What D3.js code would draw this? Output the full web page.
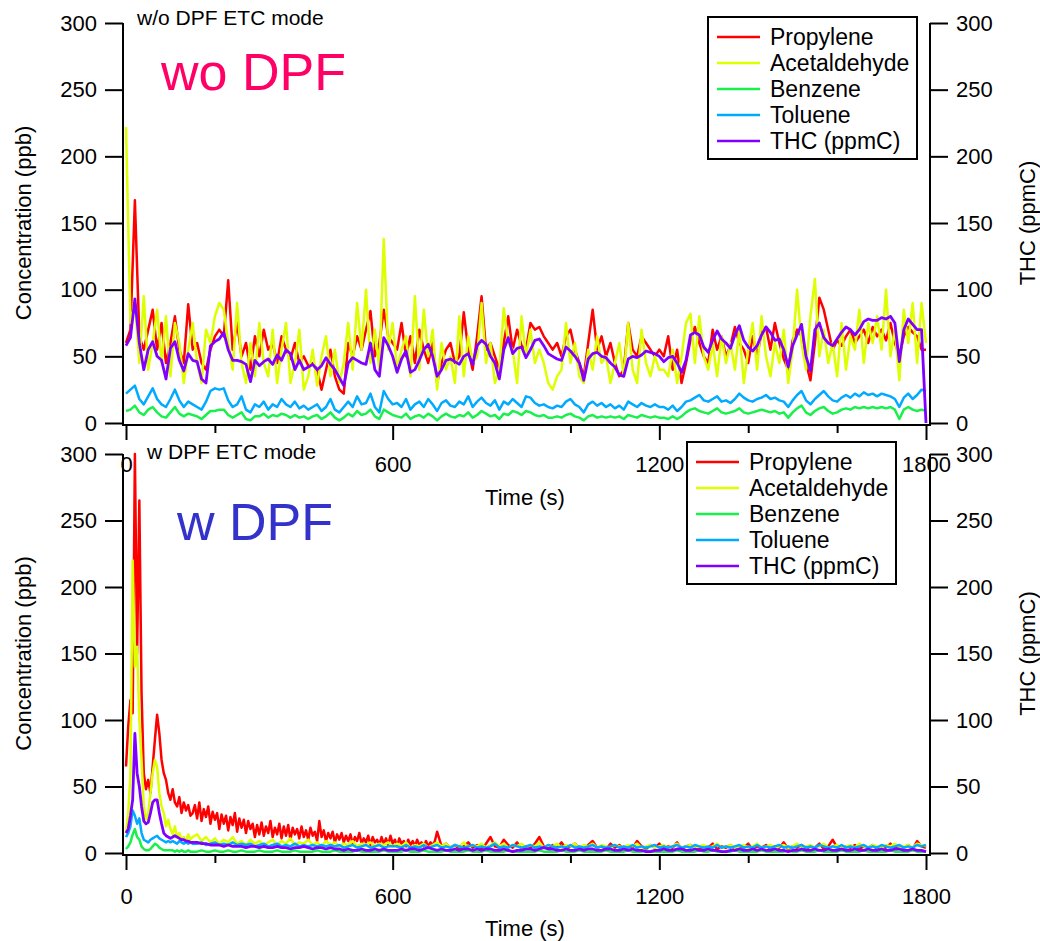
<!DOCTYPE html>
<html><head><meta charset="utf-8">
<script src="https://cdn.jsdelivr.net/npm/d3@7"></script>
<style>
html,body{margin:0;padding:0;background:#fff;}
svg{display:block;font-family:"Liberation Sans",Arial,Helvetica,sans-serif;}
</style>
</head><body>
<svg id="chart" width="1040" height="941"></svg>
<script>
// ---------------- data ----------------
const seriesNames = ["Propylene", "Acetaldehyde", "Benzene", "Toluene", "THC (ppmC)"];
const yTicks = [0, 50, 100, 150, 200, 250, 300];
const xMajorTicks = [0, 600, 1200, 1800];
const xMinorTicks = [200, 400, 800, 1000, 1400, 1600];

// time (s) of each sample
const timeTop = d3.range(0, 1801, 10);
const timeBottom = d3.range(0, 150, 5).concat(d3.range(150, 1801, 10));
const timeBottomPropylene = d3.range(0, 700, 5).concat(d3.range(700, 1801, 10));

// w/o DPF (top panel)
const topPropylene = [60,70,167,65,55,70,85,55,75,45, 60,80,55,45,89,55,60,45,40,55, 65,70,65,107,55,75,50,60,40,65, 50,70,55,60,45,65,55,48,60,45, 50,43,45,40,25,40,55,35,25,22, 60,50,65,55,70,84,50,60,85,65, 60,
 55,75,50,65,45,70,55,45,60,30, 45,55,60,45,50,83,55,40,65,95, 55,60,50,40,60,80,55,70,58,55, 75,70,72,65,60,55,60,50,65,70, 55,45,35,60,85,55,65,50,60,45, 35,40,75,55,50,65,60,55,50,55,
 50,65,40,55,30,45,62,72,60,50, 45,70,55,65,50,58,72,60,55,45, 65,50,68,72,55,75,60,48,40,62, 70,65,45,32,60,94,85,70,55,62, 58,65,70,60,65,70,60,72,65,70, 62,75,60,50,65,72,68,65,55,55];
const topAcetaldehyde = [222,75,90,45,95,40,60,85,45,80, 35,75,60,30,55,75,45,30,70,60, 80,90,85,60,40,90,45,30,60,35, 75,45,35,70,30,55,75,30,45,70, 25,35,55,28,50,65,35,55,30,45, 75,40,90,55,100,45,70,40,138,55, 75,
 40,55,65,35,95,40,85,50,70,25, 60,40,50,30,80,35,65,45,50,90, 45,60,30,40,86,60,55,30,80,50, 70,45,55,45,30,25,35,40,75,45, 60,35,30,55,40,65,45,50,30,45, 60,35,75,40,30,70,45,35,50,40,
 40,35,55,30,50,75,82,45,80,50, 40,60,35,65,45,60,40,70,30,55, 75,40,80,50,35,60,45,70,30,55, 100,60,40,80,108,50,70,45,60,35, 75,40,65,55,85,45,75,60,80,55, 100,50,70,32,85,60,90,45,90,60];
const topBenzene = [9,10,13,8,6,10,12,8,5,4, 8,12,7,5,7,6,5,3,6,9, 9,10,10,6,4,6,8,3,2,5, 5,7,4,6,5,7,6,4,6,4, 5,3,5,6,3,5,8,4,2,4, 7,5,9,6,7,10,5,3,10,8, 6,
 5,4,7,3,5,6,4,7,5,2, 5,7,5,4,6,5,8,4,6,9, 7,5,6,3,7,6,9,8,6,9, 8,6,5,6,4,4,5,4,6,7, 5,4,2,5,6,4,5,4,5,4, 5,3,6,5,4,6,5,4,5,4,
 4,3,5,3,5,8,10,11,9,8, 7,9,11,8,7,8,9,11,8,7, 8,9,10,9,8,9,7,8,4,8, 11,13,8,6,9,11,12,9,7,8, 10,11,10,12,11,12,11,12,11,12, 11,12,10,3,10,12,10,9,10,9];
const topToluene = [22,25,28,18,14,20,26,18,14,12, 18,25,17,12,16,14,12,10,16,24, 26,25,26,17,12,14,20,10,8,14, 12,16,10,14,12,18,14,12,16,11, 13,10,12,14,9,12,18,10,8,12, 16,12,20,14,15,22,12,8,24,18, 14,
 15,12,18,10,14,16,12,18,14,9, 15,17,13,12,16,14,20,12,16,19, 15,13,17,10,16,14,18,15,12,20, 19,15,13,14,12,11,13,12,16,18, 14,12,8,14,16,13,15,12,14,11, 13,10,16,14,12,15,13,12,14,12,
 12,10,13,9,12,16,17,19,21,17, 16,18,20,16,17,15,18,22,19,17, 16,18,19,21,18,19,17,16,12,17, 21,24,17,14,18,21,24,20,17,16, 19,21,19,22,20,23,21,22,20,22, 21,20,18,12,19,22,18,21,25,24];
const topTHC = [58,64,93,60,40,55,61,50,47,33, 56,61,47,39,52,47,46,33,30,58, 61,63,68,55,47,47,46,44,31,47, 43,46,48,44,51,47,55,52,40,47, 40,42,44,40,43,49,44,40,34,28, 45,49,47,45,44,60,40,35,64,58, 50,
 38,48,54,38,40,47,55,59,50,35, 40,47,48,46,44,50,52,44,58,62, 59,50,45,33,55,64,52,56,57,49, 55,62,63,58,52,50,48,47,57,54, 50,45,32,48,52,53,50,49,45,42, 36,35,48,50,49,51,54,53,52,50,
 46,49,50,45,38,47,66,68,66,57, 53,62,69,63,60,56,66,73,62,57, 54,58,66,72,68,62,63,55,42,58, 66,74,50,39,70,75,64,60,58,63, 68,72,70,66,70,76,78,77,77,79, 78,80,75,46,70,78,74,70,70,0];

// w DPF (bottom panel)
const bottomPropylene = [65,95,115,105,300,150,265,120,60,48, 55,45,65,85,104,90,70,60,55,45, 40,48,38,35,42,30,38,32,36,28, 30,
 36,26,38,24,33,27,35,22,31,25, 30,18,29,22,28,17,27,21,30,16, 26,19,25,15,24,18,22,12,21,14,
 23,13,20,15,24,12,19,14,22,11, 20,13,21,10,19,14,18,11,20,12, 17,10,19,13,16,9,24,12,17,9,
 15,11,16,8,14,10,15,8,13,9, 14,7,12,9,15,7,11,8,13,6, 12,8,10,6,12,7,11,6,13,7,
 10,5,11,7,9,5,10,6,9,5, 10,6,8,5,9,5,8,6,9,
 16, 5,7,4,6,3,5,8,4,6,3, 7,12,5,4,10,6,4,8,3,5, 4,7,12,5,3,6,4,8,3,5, 7,4,3,6,9,4,5,3,7,4, 6,3,5,4,9,5,3,6,4,7,
 3,5,4,8,3,5,6,4,3,5, 4,7,3,5,4,6,3,5,4,7, 3,5,4,6,3,5,4,8,3,5, 4,6,3,5,4,7,3,5,10,4, 3,5,4,6,3,5,4,6,3,5, 4,7,3,5,4,6,3,9,5,4];
const bottomAcetaldehyde = [15,30,60,220,140,155,100,70,35,25, 30,45,60,70,65,45,35,30,20,25, 18,14,20,12,15,10,12,9,14,10, 12,
 14,9,12,8,11,7,10,8,12,7, 9,6,10,7,9,6,8,10,6,9, 7,11,6,8,7,10,6,8,5,9, 6,8,5,7,6,9,5,7,6,8, 5,7,6,8,5,
 7,5,8,4,6,5,7,4,6,8, 5,7,4,6,5,8,4,6,5,7, 4,6,8,5,7,4,6,5,7,4, 6,5,8,4,6,5,7,4,6,5, 7,4,6,5,7,4,6,5,4,6, 5,4,6,5,7,4,5,6,4,5,
 6,4,5,7,4,5,6,4,5,6, 4,5,7,4,5,6,4,5,6,4, 5,7,4,5,6,4,5,6,4,5, 7,4,5,6,4,5,7,4,5,6, 4,5,6,4,7,5,4,6,5,4, 6,5,7,4,5,6,4,7,6,5];
const bottomBenzene = [3,5,8,14,18,12,10,5,3,2, 2,3,5,7,6,4,3,2,2,2, 2,2,1,2,1,2,1,1,2,1, 1,
 1,2,1,1,2,1,1,2,1,1, 2,1,1,1,2,1,1,1,2,1, 1,1,2,1,1,1,1,2,1,1, 1,2,1,1,1,1,2,1,1,1, 1,1,2,1,1,
 1,1,2,1,1,1,2,1,1,1, 1,2,1,1,1,1,2,1,1,1, 2,1,1,1,1,2,1,1,1,1, 1,1,2,1,1,1,1,2,1,1, 1,2,1,1,1,1,1,2,1,1, 1,1,2,1,1,1,2,1,1,1,
 1,1,1,2,1,1,1,1,2,1, 1,2,1,1,1,1,2,1,1,1, 1,1,2,1,1,1,1,1,2,1, 1,2,1,1,1,2,1,1,1,1, 2,1,1,1,1,2,1,1,1,1, 1,2,1,1,1,1,2,1,1,1];
const bottomToluene = [12,15,20,32,28,22,26,15,10,9, 8,10,11,12,13,11,10,9,8,9, 8,9,8,7,9,8,7,8,7,8, 7,
 7,8,6,7,8,6,7,6,8,6, 7,6,7,5,6,7,5,6,7,5, 6,5,7,5,6,5,6,5,6,5, 6,5,6,4,5,6,4,5,6,4, 5,6,4,5,5,
 5,4,6,4,5,4,6,4,5,6, 4,5,4,6,5,4,5,6,4,5, 4,5,7,4,5,4,6,5,4,5, 6,4,5,4,6,5,4,5,4,6, 4,5,4,5,6,4,5,4,5,6, 4,5,4,6,4,5,4,5,6,4,
 5,4,5,6,4,5,4,6,5,4, 5,4,6,4,5,4,5,6,4,5, 4,6,4,5,4,5,6,4,5,4, 5,6,4,5,4,6,5,4,5,4, 6,4,5,4,5,6,4,5,4,6, 5,4,5,6,4,5,4,6,5,6];
const bottomTHC = [15,18,28,40,90,60,50,35,24,22, 23,30,38,40,40,30,22,15,13,12, 11,12,13,12,11,10,10,9,9,8, 8,
 8,7,7,6,6,6,5,6,5,5, 5,4,5,5,4,5,4,4,5,4, 4,3,4,4,5,4,3,4,4,3, 4,3,3,2,3,2,2,3,2,2, 3,2,3,2,2,
 2,3,2,3,3,2,3,4,3,2, 3,2,2,3,2,3,3,2,3,2, 3,3,2,2,3,2,1,2,2,3, 3,2,3,4,3,3,2,2,3,2, 2,3,2,3,3,2,2,3,3,2, 2,3,2,3,2,2,1,1,2,2,
 3,2,2,3,3,2,2,3,2,2, 3,2,2,1,1,2,2,3,2,2, 3,2,3,2,2,3,2,2,1,2, 2,3,2,2,3,2,2,3,2,2, 3,2,2,3,2,2,3,2,2,3, 2,2,3,3,2,2,3,2,2,1];

// ---------------- styles ----------------
const colors = ["#ff0000", "#ddff00", "#19f04c", "#00aaff", "#8000ff"];
const widths = [2.5, 2.5, 2.5, 2.5, 2.8];
const FONT = 22;

const svg = d3.select("#chart");
const x = d3.scaleLinear().domain([0, 1800]).range([126, 926]);

const panels = [
  { times: [timeTop, timeTop, timeTop, timeTop, timeTop],
    series: [topPropylene, topAcetaldehyde, topBenzene, topToluene, topTHC],
    yRange: [423, 23], frameY: 425, tickPad: 16, titleY: 505,
    mode: "w/o DPF ETC mode", modeX: 137, modeY: 25,
    big: "wo DPF", bigColor: "#ff0066", bigX: 161, bigY: 90,
    legX: 708, legY: 17 },
  { times: [timeBottomPropylene, timeBottom, timeBottom, timeBottom, timeBottom],
    series: [bottomPropylene, bottomAcetaldehyde, bottomBenzene, bottomToluene, bottomTHC],
    yRange: [853, 454], frameY: 855, tickPad: 18, titleY: 936,
    mode: "w DPF ETC mode", modeX: 147, modeY: 459,
    big: "w DPF", bigColor: "#3333cc", bigX: 177, bigY: 540,
    legX: 687, legY: 442 }
];

const leftX = 123, rightX = 930;

panels.forEach(p => {
  const y = d3.scaleLinear().domain([0, 300]).range(p.yRange);
  const g = svg.append("g");

  // data lines
  [0, 1, 2, 3, 4].forEach(i => {
    const vals = p.series[i], ts = p.times[i];
    const line = d3.line().x((d, k) => x(ts[k])).y(d => y(d));
    g.append("path").datum(vals)
      .attr("d", line)
      .attr("fill", "none")
      .attr("stroke", colors[i])
      .attr("stroke-width", widths[i])
      .attr("stroke-linejoin", "round");
  });

  // frame (left axis, bottom, right axis)
  g.append("path")
    .attr("d", d3.line()([[leftX, y(300)], [leftX, p.frameY], [rightX, p.frameY], [rightX, y(300)]]))
    .attr("fill", "none").attr("stroke", "#000").attr("stroke-width", 2);

  const la = g.append("g").attr("transform", `translate(${leftX},0)`)
    .call(d3.axisLeft(y).tickValues(yTicks).tickSize(18).tickSizeOuter(0).tickPadding(8));
  const ra = g.append("g").attr("transform", `translate(${rightX},0)`)
    .call(d3.axisRight(y).tickValues(yTicks).tickSize(18).tickSizeOuter(0).tickPadding(8));
  const xa = g.append("g").attr("transform", `translate(0,${p.frameY})`)
    .call(d3.axisBottom(x).tickValues(xMajorTicks).tickSize(15).tickSizeOuter(0).tickPadding(p.tickPad).tickFormat(d3.format("d")));
  const xm = g.append("g").attr("transform", `translate(0,${p.frameY})`)
    .call(d3.axisBottom(x).tickValues(xMinorTicks).tickSize(8).tickSizeOuter(0).tickFormat(""));
  [la, ra, xa, xm].forEach(a => {
    a.select(".domain").remove();
    a.selectAll(".tick line").attr("stroke", "#000").attr("stroke-width", 2);
    a.selectAll(".tick text").attr("fill", "#000").style("font-size", FONT + "px").style("font-family", '"Liberation Sans",Arial,sans-serif');
  });

  const midY = (p.yRange[0] + p.yRange[1]) / 2;
  g.append("text").attr("transform", `translate(31,${midY}) rotate(-90)`)
    .attr("text-anchor", "middle").style("font-size", FONT + "px").text("Concentration (ppb)");
  g.append("text").attr("transform", `translate(1035,${midY}) rotate(-90)`)
    .attr("text-anchor", "middle").style("font-size", FONT + "px").text("THC (ppmC)");
  g.append("text").attr("x", x(900) - 1).attr("y", p.titleY)
    .attr("text-anchor", "middle").style("font-size", FONT + "px").text("Time (s)");

  g.append("text").attr("x", p.modeX).attr("y", p.modeY).style("font-size", "21px").text(p.mode);
  g.append("text").attr("x", p.bigX).attr("y", p.bigY).style("font-size", "52px")
    .attr("fill", p.bigColor).text(p.big);

  const leg = g.append("g").attr("transform", `translate(${p.legX},${p.legY})`);
  leg.append("rect").attr("width", 209).attr("height", 142)
    .attr("fill", "#fff").attr("stroke", "#000").attr("stroke-width", 2);
  seriesNames.forEach((name, i) => {
    const ry = 20 + i * 26;
    leg.append("line").attr("x1", 9).attr("x2", 52).attr("y1", ry).attr("y2", ry)
      .attr("stroke", colors[i]).attr("stroke-width", 2.5);
    leg.append("text").attr("x", 62).attr("y", ry + 8).style("font-size", "23px").text(name);
  });
});
</script>
</body></html>
